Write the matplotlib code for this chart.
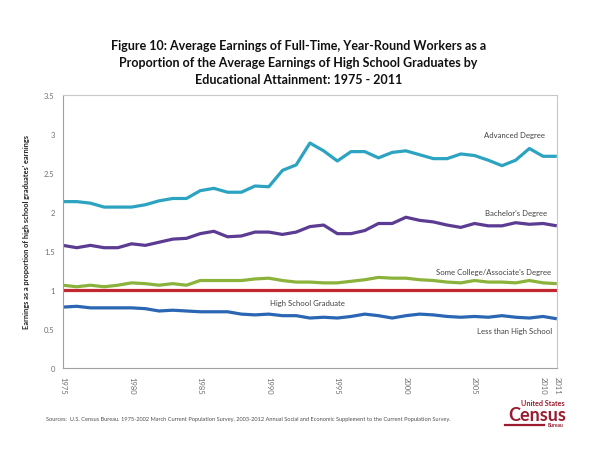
import matplotlib
matplotlib.use('Agg')
import matplotlib.pyplot as plt

plt.rcParams['font.family'] = ['Lato', 'DejaVu Sans']

years = list(range(1975, 2012))

advanced = [2.13, 2.13, 2.11, 2.06, 2.06, 2.06, 2.09, 2.14, 2.17, 2.17,
            2.27, 2.30, 2.25, 2.25, 2.33, 2.32, 2.53, 2.60, 2.88, 2.78,
            2.65, 2.77, 2.77, 2.69, 2.76, 2.78, 2.73, 2.68, 2.68, 2.74,
            2.72, 2.66, 2.59, 2.66, 2.81, 2.71, 2.71]
bachelors = [1.57, 1.54, 1.57, 1.54, 1.54, 1.59, 1.57, 1.61, 1.65, 1.66,
             1.72, 1.75, 1.68, 1.69, 1.74, 1.74, 1.71, 1.74, 1.81, 1.83,
             1.72, 1.72, 1.76, 1.85, 1.85, 1.93, 1.89, 1.87, 1.83, 1.80,
             1.85, 1.82, 1.82, 1.86, 1.84, 1.85, 1.82]
some_college = [1.06, 1.04, 1.06, 1.04, 1.06, 1.09, 1.08, 1.06, 1.08, 1.06,
                1.12, 1.12, 1.12, 1.12, 1.14, 1.15, 1.12, 1.10, 1.10, 1.09,
                1.09, 1.11, 1.13, 1.16, 1.15, 1.15, 1.13, 1.12, 1.10, 1.09,
                1.12, 1.10, 1.10, 1.09, 1.12, 1.09, 1.08]
high_school = [1.0] * len(years)
less_than_hs = [0.78, 0.79, 0.77, 0.77, 0.77, 0.77, 0.76, 0.73, 0.74, 0.73,
                0.72, 0.72, 0.72, 0.69, 0.68, 0.69, 0.67, 0.67, 0.64, 0.65,
                0.64, 0.66, 0.69, 0.67, 0.64, 0.67, 0.69, 0.68, 0.66, 0.65,
                0.66, 0.65, 0.67, 0.65, 0.64, 0.66, 0.63]

series = [
    ('Advanced Degree', advanced, '#2ba3c1', 2007.9, 2.99),
    ("Bachelor's Degree", bachelors, '#5c3b92', 2008.0, 1.99),
    ("Some College/Associate's Degree", some_college, '#8bb33b', 2006.4, 1.24),
    ('High School Graduate', high_school, '#c1272d', 1992.8, 0.84),
    ('Less than High School', less_than_hs, '#2a66b3', 2007.9, 0.48),
]

xticks = [1975, 1980, 1985, 1990, 1995, 2000, 2005, 2010, 2011]

fig = plt.figure(figsize=(6, 4.64), dpi=100)
ax = fig.add_axes([0.105, 0.2047, 0.823, 0.5893])

for name, vals, color, lx, ly in series:
    ax.plot(years, vals, color=color, lw=2.3, solid_capstyle='butt')
    ax.text(lx, ly, name, fontsize=5.6, color='#404040', ha='center', va='center')

ax.set_xlim(1975, 2011)
ax.set_ylim(0, 3.5)
ax.set_xticks(xticks)
ax.set_xticklabels([str(x) for x in xticks], rotation=270, fontsize=5.5, color='#707070')
ax.set_yticks([0, 0.5, 1, 1.5, 2, 2.5, 3, 3.5])
ax.set_yticklabels(['0', '0.5', '1', '1.5', '2', '2.5', '3', '3.5'], fontsize=5.5, color='#707070')
ax.tick_params(length=0, pad=6)
for side in ax.spines.values():
    side.set_color('#c8c8c8')
    side.set_linewidth(0.8)
ax.spines['left'].set_color('#a0a0a0')
ax.spines['bottom'].set_color('#a0a0a0')

ax.set_ylabel("Earnings as a proportion of high school graduates' earnings",
              fontsize=5.3, fontweight='bold', color='#202020', labelpad=10)

fig.text(0.497, 1 - 63 / 464, 'Figure 10: Average Earnings of Full-Time, Year-Round Workers as a\n'
         'Proportion of the Average Earnings of High School Graduates by\n'
         'Educational Attainment: 1975 - 2011',
         ha='center', va='center', fontsize=9, fontweight='bold', linespacing=1.55,
         color='#111111')

fig.text(0.076, 1 - 419 / 464, 'Sources:  U.S. Census Bureau. 1975-2002 March Current Population Survey, '
         '2003-2012 Annual Social and Economic Supplement to the Current Population Survey.',
         fontsize=4.05, color='#505050', va='center')

# Census logo
red = '#9b1c2e'
fig.text(565 / 600, 1 - 404 / 464, 'United States', fontsize=5.2, color=red, ha='right', va='center', fontweight='bold')
fig.text(566 / 600, 1 - 416 / 464, 'Census', fontsize=13, color=red, ha='right', va='center', fontweight='bold')
fig.add_artist(plt.Line2D([505 / 600, 544 / 600], [1 - 425.5 / 464] * 2, color=red, lw=1.6))
fig.text(563 / 600, 1 - 426 / 464, 'Bureau', fontsize=3.6, color=red, ha='right', va='center', fontweight='bold')

fig.savefig('out.png', dpi=100)
